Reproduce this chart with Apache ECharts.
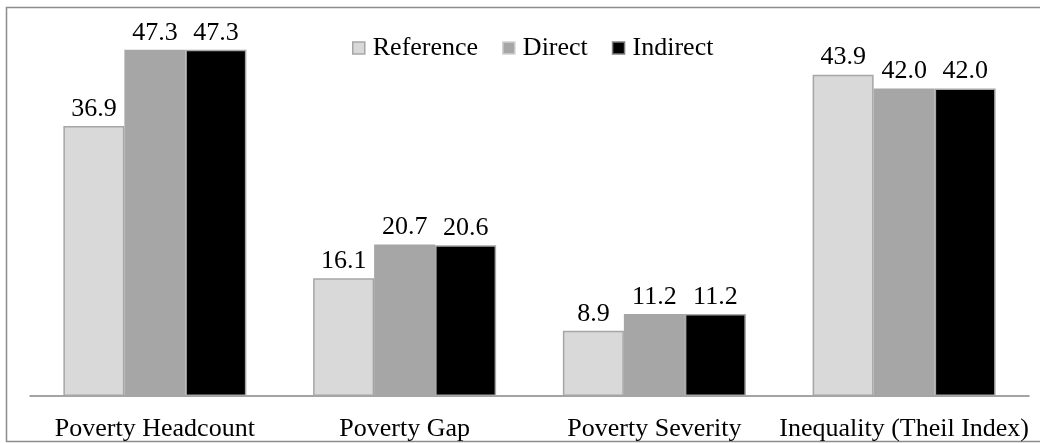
<!DOCTYPE html>
<html>
<head>
<meta charset="utf-8">
<script src="https://cdn.jsdelivr.net/npm/echarts@6/dist/echarts.min.js"></script>
<style>
    html, body { margin: 0; padding: 0; background: #fff; }
    #chart { width: 1040px; height: 443px; }
</style>
</head>
<body>
<div id="chart"></div>
<script>
var categories = ['Poverty Headcount', 'Poverty Gap', 'Poverty Severity', 'Inequality (Theil Index)'];
var referenceVals = [36.9, 16.1, 8.9, 43.9];
var directVals = [47.3, 20.7, 11.2, 42.0];
var indirectVals = [47.3, 20.6, 11.2, 42.0];

var FONT = '"Liberation Serif", "Times New Roman", serif';
var barColors = ['#d9d9d9', '#a6a6a6', '#000000'];

function bar(name, vals, color) {
    return {
        name: name,
        type: 'bar',
        data: vals,
        barWidth: 61,
        barGap: '0%',
        itemStyle: {
            color: color,
            borderColor: '#a6a6a6',
            borderWidth: 1.5
        },
        label: {
            show: true,
            position: 'top',
            distance: 4,
            color: '#000',
            fontFamily: FONT,
            fontSize: 26,
            formatter: function (p) { return p.value.toFixed(1); }
        }
    };
}

var myChart = echarts.init(document.getElementById('chart'));
var option = {
    animation: false,
    backgroundColor: '#fff',
    graphic: [{
        type: 'rect',
        shape: { x: 6.5, y: 7.5, width: 1040, height: 434 },
        style: { fill: 'none', stroke: '#8c8c8c', lineWidth: 1.5 },
        silent: true
    }],
    legend: {
        left: 347,
        top: 30,
        itemWidth: 12,
        itemHeight: 12,
        itemGap: 24,
        icon: 'rect',
        textStyle: {
            fontFamily: FONT,
            fontSize: 26,
            color: '#000',
            padding: [0, 0, 0, 3]
        },
        data: [
            { name: 'Reference', itemStyle: { borderColor: '#a6a6a6', borderWidth: 1.5 } },
            { name: 'Direct', itemStyle: { borderColor: '#cfcfcf', borderWidth: 1.5 } },
            { name: 'Indirect', itemStyle: { borderColor: '#7f7f7f', borderWidth: 1.5 } }
        ]
    },
    grid: {
        left: 30,
        right: 11,
        top: 30,
        bottom: 47,
        containLabel: false
    },
    xAxis: {
        type: 'category',
        data: categories,
        axisLine: { lineStyle: { color: '#868686', width: 1.5 } },
        axisTick: { show: false },
        axisLabel: {
            margin: 20,
            color: '#000',
            fontFamily: FONT,
            fontSize: 26,
            interval: 0
        }
    },
    yAxis: {
        type: 'value',
        min: 0,
        max: 50,
        show: false,
        splitLine: { show: false }
    },
    series: [
        bar('Reference', referenceVals, barColors[0]),
        bar('Direct', directVals, barColors[1]),
        bar('Indirect', indirectVals, barColors[2])
    ]
};
myChart.setOption(option);
</script>
</body>
</html>
